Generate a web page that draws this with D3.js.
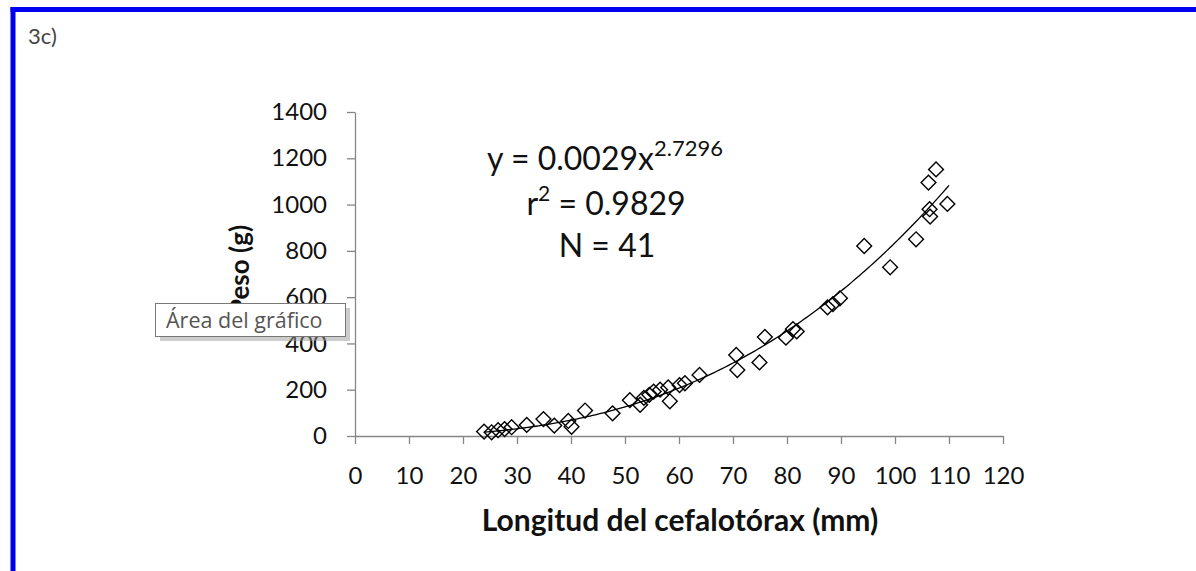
<!DOCTYPE html>
<html><head><meta charset="utf-8">
<script src="https://cdn.jsdelivr.net/npm/d3@7"></script>
<style>body{margin:0;background:#fff;}svg{display:block;}</style>
</head><body>
<script>
const lengths = [23.9,25.3,26.5,27.7,29.0,31.8,34.9,36.9,39.5,40.1,42.6,47.7,50.9,52.8,53.5,54.5,55.3,56.5,58.0,58.3,60.1,61.1,63.8,70.6,70.8,74.9,75.9,79.8,81.1,81.8,87.5,88.5,89.8,94.3,99.1,103.9,106.2,106.4,106.5,107.6,109.7];
const weights = [19,16,25,30,38,48,73,45,65,40,110,98,155,135,165,178,192,200,210,150,220,228,264,350,285,318,428,425,462,452,556,570,595,821,729,850,1095,980,948,1152,1003];
const xTicks = [0,10,20,30,40,50,60,70,80,90,100,110,120];
const yTicks = [0,200,400,600,800,1000,1200,1400];
const coefA = 0.0029, coefB = 2.7296;
const fitRange = [24,110];

const W=1196,H=571;
const svg=d3.select("body").append("svg").attr("width",W).attr("height",H);
const font="Lato, 'Open Sans', sans-serif";
// border
svg.append("rect").attr("x",10.5).attr("y",7).attr("width",W).attr("height",5).attr("fill","#0000f0");
svg.append("rect").attr("x",10.5).attr("y",7).attr("width",5).attr("height",H).attr("fill","#0000f0");
svg.append("text").attr("x",28).attr("y",44).attr("font-family",font).attr("font-size",22).attr("fill","#444").text("3c)");

const x=d3.scaleLinear().domain([0,120]).range([355,1003]);
const y=d3.scaleLinear().domain([0,1400]).range([436,112]);
const axisColor="#868686";

const gx=svg.append("g").attr("transform","translate(0,436)")
  .call(d3.axisBottom(x).tickValues(xTicks).tickFormat(d3.format("d")).tickSize(8).tickPadding(23).tickSizeOuter(0));
const gy=svg.append("g").attr("transform","translate(355,0)")
  .call(d3.axisLeft(y).tickValues(yTicks).tickFormat(d3.format("d")).tickSize(8).tickPadding(20).tickSizeOuter(0));
[gx,gy].forEach(g=>{
  g.select(".domain").attr("stroke",axisColor).attr("stroke-width",1.3);
  g.selectAll(".tick line").attr("stroke",axisColor).attr("stroke-width",1.3);
  g.selectAll(".tick text").attr("font-family",font).attr("font-size",24).attr("fill","#111");
});

svg.append("text").attr("x",680).attr("y",531).attr("text-anchor","middle")
  .attr("font-family",font).attr("font-weight","bold").attr("font-size",30).attr("fill","#111")
  .text("Longitud del cefalotórax (mm)");
svg.append("text").attr("transform","translate(249,270) rotate(-90)").attr("text-anchor","middle")
  .attr("font-family",font).attr("font-weight","bold").attr("font-size",26).attr("fill","#111")
  .text("Peso (g)");

// trend line
const fx=d3.range(fitRange[0],fitRange[1]+0.01,0.5);
svg.append("path").datum(fx).attr("fill","none").attr("stroke","#000").attr("stroke-width",1.3)
  .attr("d",d3.line().x(d=>x(d)).y(d=>y(coefA*Math.pow(d,coefB))));

// points
const sym=d3.symbol().type(d3.symbolSquare).size(110);
svg.append("g").selectAll("path").data(lengths).join("path")
  .attr("transform",(d,i)=>`translate(${x(d)},${y(weights[i])}) rotate(45)`)
  .attr("d",sym).attr("fill","none").attr("stroke","#000").attr("stroke-width",1.4);

// equation text
const eq=svg.append("text").attr("x",487).attr("y",170).attr("font-family",font).attr("font-size",32).attr("fill","#111");
eq.append("tspan").text("y = "+coefA+"x");
eq.append("tspan").attr("font-size",22).attr("dy",-14).text(coefB);
const r2=svg.append("text").attr("x",606).attr("y",215).attr("text-anchor","middle").attr("font-family",font).attr("font-size",32).attr("fill","#111");
r2.append("tspan").text("r");
r2.append("tspan").attr("font-size",21).attr("dy",-14).text("2");
r2.append("tspan").attr("dy",14).text(" = 0.9829");
svg.append("text").attr("x",607).attr("y",257).attr("text-anchor","middle").attr("font-family",font).attr("font-size",32).attr("fill","#111").text("N = 41");

// tooltip (overlays the y-axis title, as in the reference)
svg.append("rect").attr("x",160).attr("y",308).attr("width",190).attr("height",33).attr("fill","#999").attr("opacity",0.5);
svg.append("rect").attr("x",155.5).attr("y",303.5).attr("width",190).attr("height",33).attr("fill","#fff").attr("stroke","#777").attr("stroke-width",1);
svg.append("text").attr("x",166).attr("y",328).attr("font-family","'Open Sans', sans-serif").attr("font-size",21.5).attr("fill","#555").text("Área del gráfico");
</script>
</body></html>
